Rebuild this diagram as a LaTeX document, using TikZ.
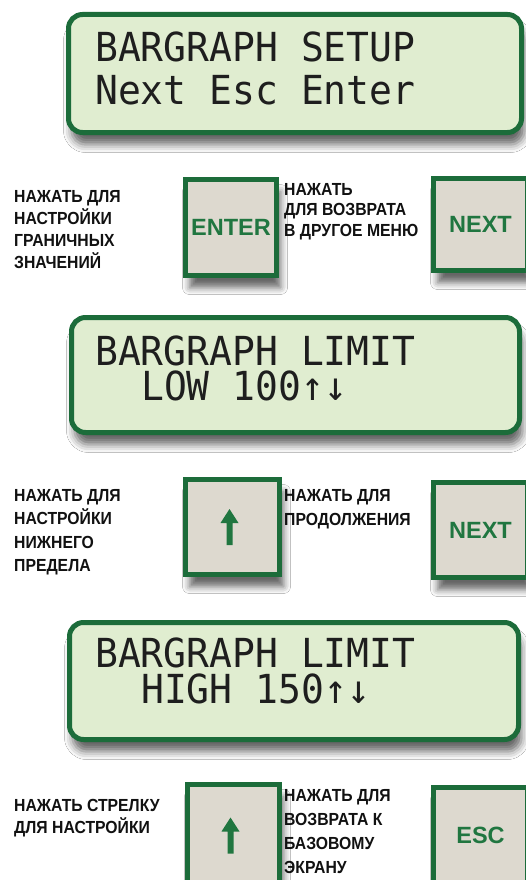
\documentclass[tikz,border=0pt]{standalone}
\usepackage{fontspec}
\setmainfont{Liberation Sans}
\newfontfamily\labfont{Liberation Sans}[FakeStretch=0.9]
\newfontfamily\btnfont{Liberation Sans}
\newfontfamily\lcdfont{DejaVu Sans Mono}[FakeStretch=0.95]
\usetikzlibrary{shadows.blur}
\definecolor{lcdgreen}{RGB}{224,237,208}
\definecolor{framegreen}{RGB}{28,108,58}
\definecolor{btnfill}{RGB}{221,217,207}
\definecolor{btntext}{RGB}{32,118,64}
\definecolor{labtext}{RGB}{17,17,17}
\definecolor{lcdtext}{RGB}{30,30,30}
\begin{document}
\begin{tikzpicture}[x=1pt,y=-1pt,
  lcdbox/.style={draw=framegreen, line width=5pt, fill=lcdgreen, rounded corners=14pt,
     blur shadow={shadow xshift=3pt, shadow yshift=-12pt, shadow blur radius=8pt, shadow opacity=60}},
  lcdtxt/.style={anchor=base west, inner sep=0pt, align=left, text=lcdtext},
  btnbox/.style={draw=framegreen, line width=5pt, fill=btnfill, inner sep=0pt,
     text=btntext, font=\btnfont\bfseries\fontsize{23.5}{26}\selectfont,
     blur shadow={shadow xshift=4pt, shadow yshift=-12pt, shadow blur radius=7pt, shadow opacity=60}},
  labtxt/.style={anchor=base west, inner sep=0pt, align=left, text=labtext},
  uparrow/.style={fill=btntext}
]
\fill[white] (0,0) rectangle (526,880);
\useasboundingbox (0,0) rectangle (526,880);

% LCD screens
\node[lcdbox, minimum width=453pt, minimum height=118pt] (lcd1) at (295,73.5) {};
\node[lcdtxt, font=\lcdfont\fontsize{40}{43}\selectfont] (t1) at (95,105)
  {BARGRAPH SETUP\\Next Esc Enter};

\node[lcdbox, minimum width=448pt, minimum height=115pt] (lcd2) at (295.5,375) {};
\node[lcdtxt, font=\lcdfont\fontsize{40}{35}\selectfont] (t2) at (95,400)
  {BARGRAPH LIMIT\\\hspace*{46pt}LOW 100↑↓};

\node[lcdbox, minimum width=449pt, minimum height=117pt] (lcd3) at (294,681) {};
\node[lcdtxt, font=\lcdfont\fontsize{40}{36}\selectfont] (t3) at (95,703)
  {BARGRAPH LIMIT\\\hspace*{46pt}HIGH 150↑↓};

% Row 1
\node[btnbox, minimum width=91pt, minimum height=96pt] (enter) at (231,227.5) {ENTER};
\node[btnbox, minimum width=94pt, minimum height=92pt] (next1) at (480.5,224.5) {NEXT};
\node[labtxt, font=\labfont\bfseries\fontsize{17.5}{22}\selectfont] (l1) at (14,268)
  {НАЖАТЬ ДЛЯ\\НАСТРОЙКИ\\ГРАНИЧНЫХ\\ЗНАЧЕНИЙ};
\node[labtxt, font=\labfont\bfseries\fontsize{17.5}{20.7}\selectfont] (m1) at (284,236.4)
  {НАЖАТЬ\\ДЛЯ ВОЗВРАТА\\В ДРУГОЕ МЕНЮ};

% Row 2
\node[btnbox, minimum width=94pt, minimum height=95pt] (up1) at (232.5,527) {};
\node[btnbox, minimum width=94pt, minimum height=95pt] (next2) at (480.5,530) {NEXT};
\fill[uparrow, shift={(up1.center)}, xshift=-3pt]
  (0,-18) -- (9,-4) -- (3,-4) -- (3,18) -- (-3,18) -- (-3,-4) -- (-9,-4) -- cycle;
\node[labtxt, font=\labfont\bfseries\fontsize{17.5}{23.5}\selectfont] (l2) at (14,571.5)
  {НАЖАТЬ ДЛЯ\\НАСТРОЙКИ\\НИЖНЕГО\\ПРЕДЕЛА};
\node[labtxt, font=\labfont\bfseries\fontsize{17.5}{24}\selectfont] (m2) at (284,525)
  {НАЖАТЬ ДЛЯ\\ПРОДОЛЖЕНИЯ};

% Row 3
\node[btnbox, minimum width=92pt, minimum height=98pt] (up2) at (233.5,833.5) {};
\node[btnbox, minimum width=94pt, minimum height=95pt] (esc) at (480.5,835) {ESC};
\fill[uparrow, shift={(up2.center)}, xshift=-3pt, yshift=-2pt]
  (0,-18) -- (9,-4) -- (3,-4) -- (3,18) -- (-3,18) -- (-3,-4) -- (-9,-4) -- cycle;
\node[labtxt, font=\labfont\bfseries\fontsize{17.5}{22}\selectfont] (l3) at (14,833)
  {НАЖАТЬ СТРЕЛКУ\\ДЛЯ НАСТРОЙКИ};
\node[labtxt, font=\labfont\bfseries\fontsize{17.5}{24}\selectfont] (m3) at (284,873)
  {НАЖАТЬ ДЛЯ\\ВОЗВРАТА К\\БАЗОВОМУ\\ЭКРАНУ};
\end{tikzpicture}
\end{document}
